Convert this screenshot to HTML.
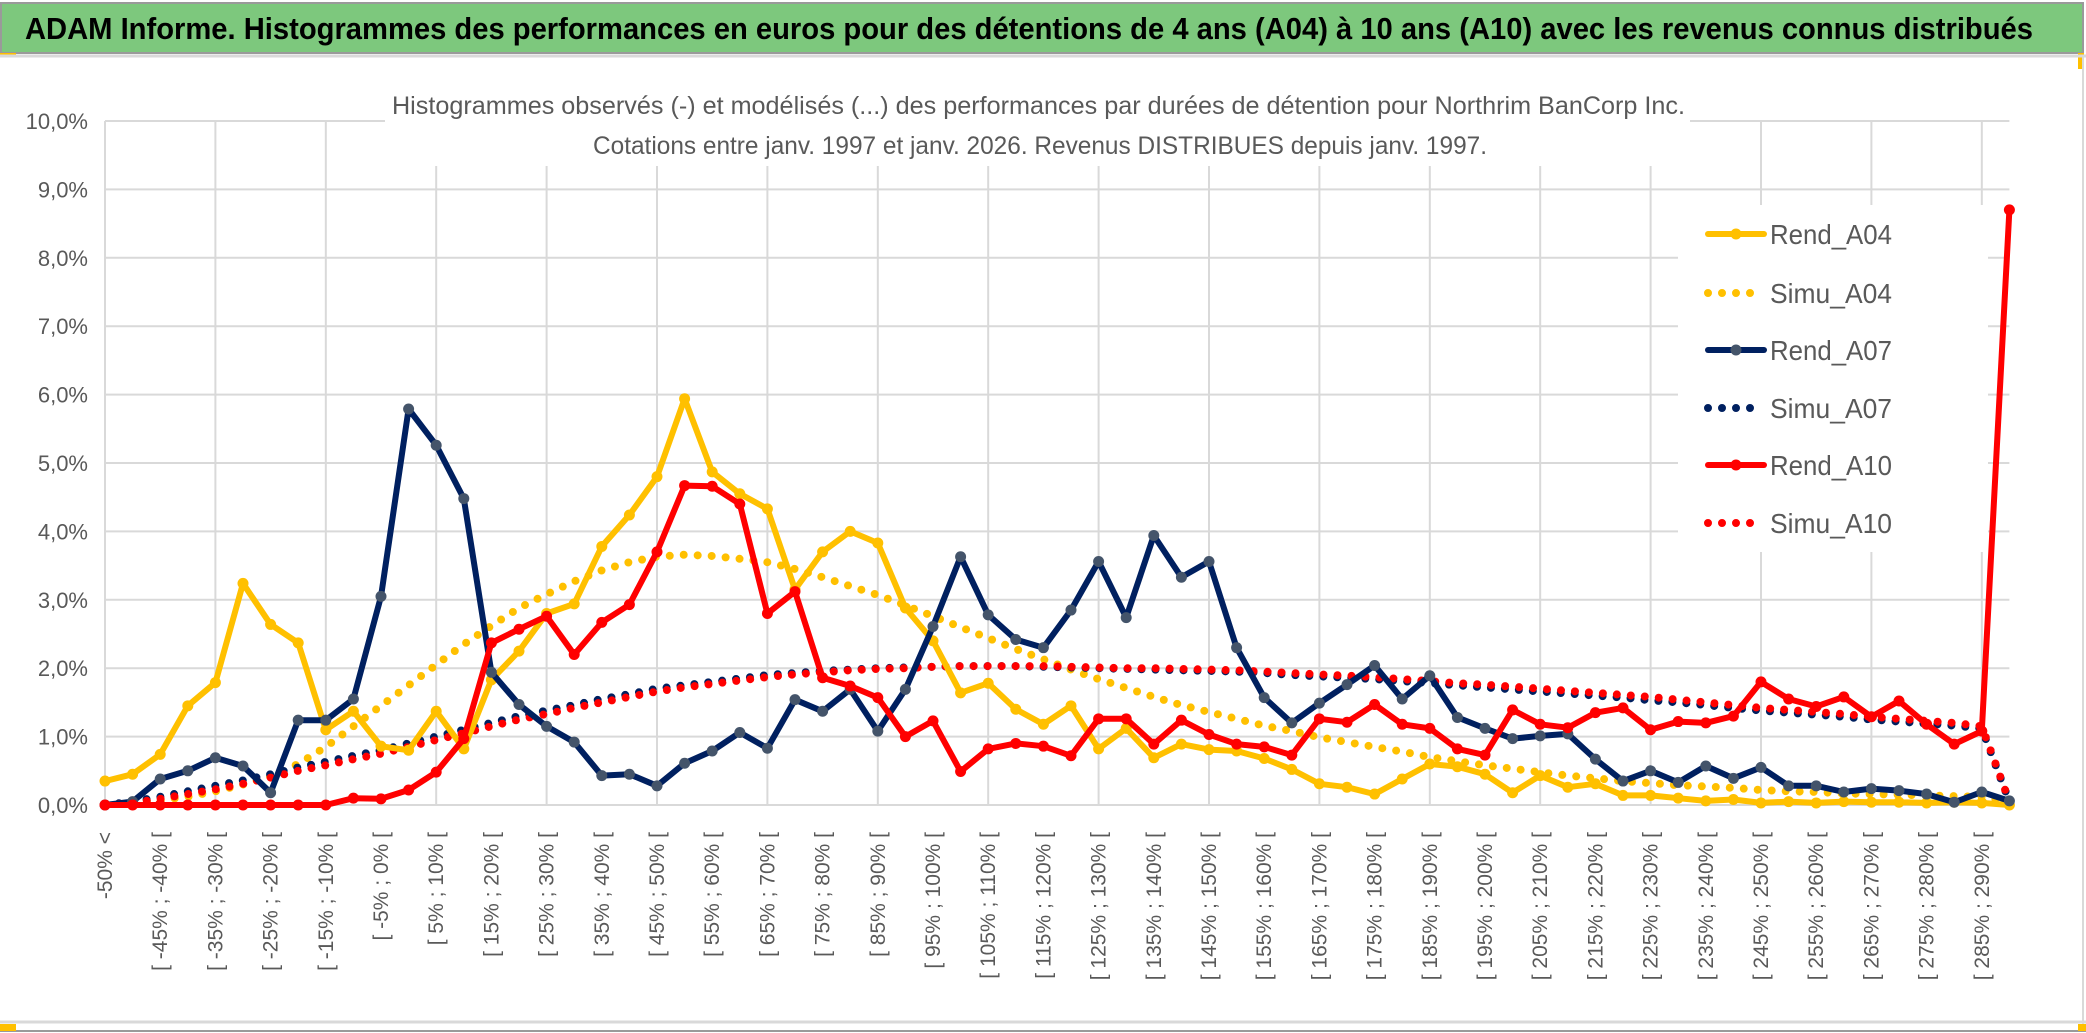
<!DOCTYPE html>
<html><head><meta charset="utf-8"><style>
html,body{margin:0;padding:0;background:#fff;}
svg{display:block;}
text{font-family:"Liberation Sans",sans-serif;}
</style></head><body>
<svg id="chart" width="2086" height="1033" viewBox="0 0 2086 1033" xmlns="http://www.w3.org/2000/svg">
<rect x="0" y="0" width="2086" height="1033" fill="#fff"/>
<rect x="1" y="3" width="2082" height="50" fill="#7DC87D" stroke="#9a9a9a" stroke-width="2"/>
<text x="25" y="39" font-size="31" font-weight="bold" fill="#000" textLength="2008" lengthAdjust="spacingAndGlyphs">ADAM Informe. Histogrammes des performances en euros pour des détentions de 4 ans (A04) à 10 ans (A10) avec les revenus connus distribués</text>
<rect x="0" y="53" width="16" height="4" fill="#FFC000"/>
<rect x="2078" y="53" width="6" height="16" fill="#FFC000"/>
<line x1="0" y1="56" x2="2086" y2="56" stroke="#d9d9d9" stroke-width="3"/>
<line x1="2083" y1="56" x2="2083" y2="1025" stroke="#d9d9d9" stroke-width="2"/>
<line x1="0" y1="1022" x2="2086" y2="1022" stroke="#d9d9d9" stroke-width="3"/>
<line x1="0" y1="1031" x2="2086" y2="1031" stroke="#9a9a9a" stroke-width="2"/>
<rect x="0" y="1024" width="16" height="7" fill="#FFC000"/>
<rect x="2078" y="1024" width="8" height="7" fill="#FFC000"/>
<g id="grid"></g>
<rect x="385" y="80" width="1305" height="86" fill="#fff"/>
<text x="392" y="114" font-size="25" fill="#595959" textLength="1293" lengthAdjust="spacingAndGlyphs">Histogrammes observés (-) et modélisés (...) des performances par durées de détention pour Northrim BanCorp Inc.</text>
<text x="593" y="154" font-size="25" fill="#595959" textLength="894" lengthAdjust="spacingAndGlyphs">Cotations entre janv. 1997 et janv. 2026. Revenus DISTRIBUES depuis janv. 1997.</text>
<g id="yaxis"></g>
<g id="xaxis"></g>
<rect x="1678" y="205" width="310" height="347" fill="#fff"/>
<g id="series"></g>
<g id="legend"></g>
</svg>
<script>
const categoriesCount = 70;
const yTicks = [0,1,2,3,4,5,6,7,8,9,10];
const rendA04 = [0.35,0.45,0.74,1.45,1.79,3.24,2.64,2.37,1.1,1.37,0.86,0.8,1.37,0.82,1.83,2.25,2.8,2.94,3.78,4.24,4.8,5.94,4.87,4.55,4.33,3.15,3.7,4.0,3.83,2.88,2.4,1.64,1.78,1.4,1.18,1.45,0.82,1.12,0.69,0.89,0.81,0.79,0.68,0.52,0.31,0.26,0.16,0.38,0.6,0.56,0.45,0.18,0.43,0.26,0.31,0.14,0.14,0.1,0.06,0.08,0.03,0.05,0.03,0.05,0.04,0.04,0.03,0.04,0.03,0.0];
const rendA07 = [0,0.05,0.38,0.5,0.69,0.57,0.18,1.24,1.24,1.55,3.05,5.79,5.26,4.48,1.94,1.47,1.15,0.92,0.43,0.45,0.28,0.61,0.79,1.06,0.83,1.54,1.37,1.69,1.08,1.69,2.61,3.63,2.78,2.42,2.3,2.85,3.56,2.74,3.94,3.33,3.56,2.3,1.57,1.2,1.49,1.76,2.04,1.55,1.89,1.28,1.12,0.97,1.01,1.04,0.67,0.35,0.5,0.33,0.57,0.39,0.55,0.28,0.28,0.19,0.24,0.21,0.16,0.04,0.19,0.06];
const rendA10 = [0,0,0,0,0,0,0,0,0,0.1,0.09,0.22,0.48,0.97,2.37,2.57,2.76,2.2,2.67,2.93,3.7,4.67,4.66,4.4,2.8,3.12,1.86,1.74,1.57,1.0,1.23,0.49,0.82,0.9,0.86,0.72,1.26,1.26,0.89,1.24,1.03,0.89,0.85,0.73,1.26,1.21,1.47,1.18,1.12,0.82,0.73,1.39,1.18,1.13,1.35,1.42,1.1,1.22,1.2,1.3,1.8,1.55,1.44,1.58,1.29,1.52,1.18,0.89,1.08,8.7];
const simuA04 = [0,0.03,0.07,0.12,0.2,0.3,0.42,0.6,0.85,1.15,1.45,1.75,2.05,2.35,2.62,2.88,3.08,3.27,3.43,3.55,3.63,3.66,3.64,3.6,3.55,3.45,3.33,3.2,3.07,2.92,2.76,2.6,2.44,2.28,2.13,1.98,1.84,1.71,1.58,1.46,1.36,1.26,1.16,1.08,0.99,0.92,0.85,0.78,0.7,0.64,0.58,0.53,0.48,0.43,0.39,0.35,0.32,0.29,0.27,0.25,0.22,0.2,0.19,0.17,0.16,0.15,0.14,0.13,0.12,0.05];
const simuA07 = [0,0.05,0.12,0.2,0.28,0.36,0.45,0.55,0.63,0.72,0.8,0.9,1.0,1.1,1.2,1.3,1.38,1.46,1.55,1.62,1.7,1.75,1.8,1.85,1.9,1.93,1.96,1.98,2.0,2.01,2.02,2.03,2.03,2.03,2.02,2.01,2.0,1.99,1.98,1.97,1.96,1.95,1.93,1.9,1.88,1.86,1.84,1.81,1.78,1.75,1.72,1.69,1.66,1.63,1.6,1.57,1.53,1.5,1.46,1.42,1.38,1.35,1.32,1.29,1.25,1.22,1.19,1.16,1.12,0.05];
const simuA10 = [0,0.03,0.09,0.16,0.23,0.31,0.4,0.5,0.58,0.67,0.75,0.85,0.95,1.05,1.15,1.25,1.33,1.42,1.5,1.58,1.66,1.72,1.77,1.82,1.87,1.91,1.94,1.97,1.99,2.0,2.02,2.03,2.03,2.03,2.03,2.02,2.01,2.0,2.0,1.99,1.98,1.97,1.95,1.93,1.91,1.89,1.87,1.84,1.81,1.78,1.76,1.73,1.7,1.67,1.64,1.61,1.58,1.54,1.5,1.46,1.42,1.39,1.36,1.33,1.29,1.26,1.23,1.2,1.15,0.05];

const NS='http://www.w3.org/2000/svg';
const X0=105, DX=27.6, Y0=805, PY=68.4;
function xs(i){return X0+DX*i;}
function ys(v){return Y0-v*PY;}
function mk(tag,attrs,parent){const e=document.createElementNS(NS,tag);for(const k in attrs)e.setAttribute(k,attrs[k]);parent.appendChild(e);return e;}
function catLabel(i){if(i===0)return '-50% <';const a=-50+5*(i-1);return '[ '+a+'% ; '+(a+5)+'% [';}

const grid=document.getElementById('grid');
yTicks.forEach(t=>{
  const l=mk('line',{x1:X0,x2:xs(categoriesCount-1),y1:ys(t),y2:ys(t),stroke:'#d9d9d9','stroke-width':2},grid);
  
  
});
for(let i=0;i<categoriesCount;i+=4){
  const l=mk('line',{x1:xs(i),x2:xs(i),y1:ys(10),y2:ys(0),stroke:'#d9d9d9','stroke-width':2},grid);
  
  
}
const yaxis=document.getElementById('yaxis');
yTicks.forEach(t=>{
  const tx=mk('text',{x:88,y:ys(t)+8,'font-size':22,fill:'#595959','text-anchor':'end'},yaxis);
  tx.textContent=t.toFixed(1).replace('.',',')+'%';
  
  
});
const xaxis=document.getElementById('xaxis');
for(let i=0;i<categoriesCount;i+=2){
  const tx=mk('text',{x:0,y:0,'font-size':21,fill:'#595959','text-anchor':'end',transform:'translate('+(xs(i)+7)+',832) rotate(-90)'},xaxis);
  tx.textContent=catLabel(i);
  
  
}
const series=document.getElementById('series');
function pts(arr){return arr.map((v,i)=>xs(i).toFixed(1)+','+ys(v).toFixed(1)).join(' ');}
function dotted(arr,color,name){
  const p=mk('polyline',{points:pts(arr),fill:'none',stroke:color,'stroke-width':8,'stroke-linecap':'round','stroke-dasharray':'0 14'},series);
  
  
}
function solid(arr,color,mcolor,name){
  const g=mk('g',{},series);
  
  
  mk('polyline',{points:pts(arr),fill:'none',stroke:color,'stroke-width':6,'stroke-linejoin':'round'},g);
  arr.forEach((v,i)=>{
    const c=mk('circle',{cx:xs(i),cy:ys(v),r:5.5,fill:mcolor},g);
    
    
  });
}
dotted(simuA04,'#FFC000','simu-a04-line');
dotted(simuA07,'#002060','simu-a07-line');
dotted(simuA10,'#FF0000','simu-a10-line');
solid(rendA04,'#FFC000','#FFC000','rend-a04-line');
solid(rendA07,'#002060','#44546A','rend-a07-line');
solid(rendA10,'#FF0000','#FF0000','rend-a10-line');

const legend=document.getElementById('legend');
const legendNames=['Rend_A04','Simu_A04','Rend_A07','Simu_A07','Rend_A10','Simu_A10'];
const legendColors=['#FFC000','#FFC000','#002060','#002060','#FF0000','#FF0000'];
const legendY=[234,293,350,408,465,523];
legendNames.forEach((n,k)=>{
  const g=mk('g',{},legend);
  
  
  const y=legendY[k];
  if(n.startsWith('Rend')){
    mk('line',{x1:1708,x2:1764,y1:y,y2:y,stroke:legendColors[k],'stroke-width':6,'stroke-linecap':'round'},g);
    mk('circle',{cx:1736,cy:y,r:5.5,fill:k===2?'#44546A':legendColors[k]},g);
  } else {
    mk('line',{x1:1708,x2:1756,y1:y,y2:y,stroke:legendColors[k],'stroke-width':8,'stroke-linecap':'round','stroke-dasharray':'0 14'},g);
  }
  const t=mk('text',{x:1770,y:y+10,'font-size':28,fill:'#595959',textLength:122,lengthAdjust:'spacingAndGlyphs'},g);
  t.textContent=n;
});
</script>
</body></html>
